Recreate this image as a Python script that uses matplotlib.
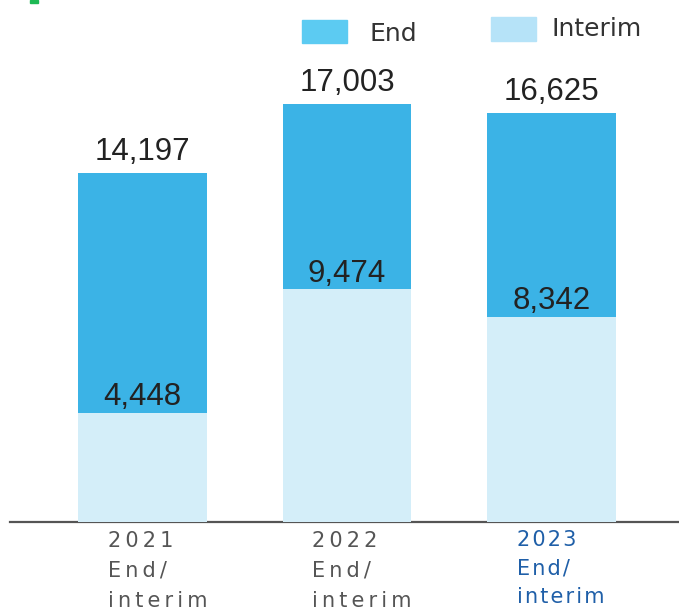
import matplotlib
matplotlib.use("Agg")
import matplotlib.pyplot as plt
from matplotlib.patches import Rectangle
from matplotlib.transforms import blended_transform_factory

years = ["2021", "2022", "2023"]
total = [14197, 17003, 16625]
interim = [4448, 9474, 8342]
end_color = "#3BB3E6"
interim_color = "#D4EEF9"

W, H = 679, 611
fig = plt.figure(figsize=(W / 100, H / 100), dpi=100)
ax = fig.add_axes([10 / W, 89 / H, 669 / W, 522 / H])

x = list(range(len(years)))
ax.bar(x, total, width=0.63, color=end_color, zorder=2)
ax.bar(x, interim, width=0.63, color=interim_color, zorder=3)

ax.set_xlim(-0.648, 2.623)
ax.set_ylim(0, 21237)

for xi, t, i in zip(x, total, interim):
    ax.text(xi, t + 250, f"{t:,}", ha="center", va="bottom", fontsize=22.5,
            family="Liberation Sans", color="#222222", zorder=4)
    ax.text(xi, i + 20, f"{i:,}", ha="center", va="bottom", fontsize=22.5,
            family="Liberation Sans", color="#222222", zorder=4)

for s in ["top", "right", "left"]:
    ax.spines[s].set_visible(False)
ax.spines["bottom"].set_color("#555555")
ax.spines["bottom"].set_linewidth(1.6)
ax.set_xticks([])
ax.set_yticks([])

# category labels below the baseline
tr = blended_transform_factory(ax.transData, fig.transFigure)
thin = "\u2009"
for xi, yr in zip(x, years):
    lines = [yr, "End/", "interim"]
    if yr == "2023":
        sep = "\u200a"
        col = "#1F5FA8"
        ys = [540, 568, 597]
    else:
        sep = thin
        col = "#555555"
        ys = [541, 571, 601]
    for ln, yp in zip(lines, ys):
        ax.text(xi - 0.17, 1 - yp / H, sep.join(ln), transform=tr, ha="left",
                va="center", fontsize=15, color=col, family="DejaVu Sans")

# legend drawn by hand
fig.add_artist(Rectangle((302 / W, 1 - 43 / H), 45 / W, 23 / H,
                         transform=fig.transFigure, color="#5CCBF2"))
fig.text(370 / W, 1 - 34 / H, "End", ha="left", va="center", fontsize=18,
         color="#333333")
fig.add_artist(Rectangle((491 / W, 1 - 41 / H), 45 / W, 24 / H,
                         transform=fig.transFigure, color="#B6E3F8"))
fig.text(551 / W, 1 - 29 / H, "Interim", ha="left", va="center", fontsize=18,
         color="#333333")

# green marker of the clipped title
fig.add_artist(Rectangle((30 / W, 1 - 3 / H), 8 / W, 3 / H,
                         transform=fig.transFigure, color="#1DB954"))

fig.savefig("out.png", dpi=100)
